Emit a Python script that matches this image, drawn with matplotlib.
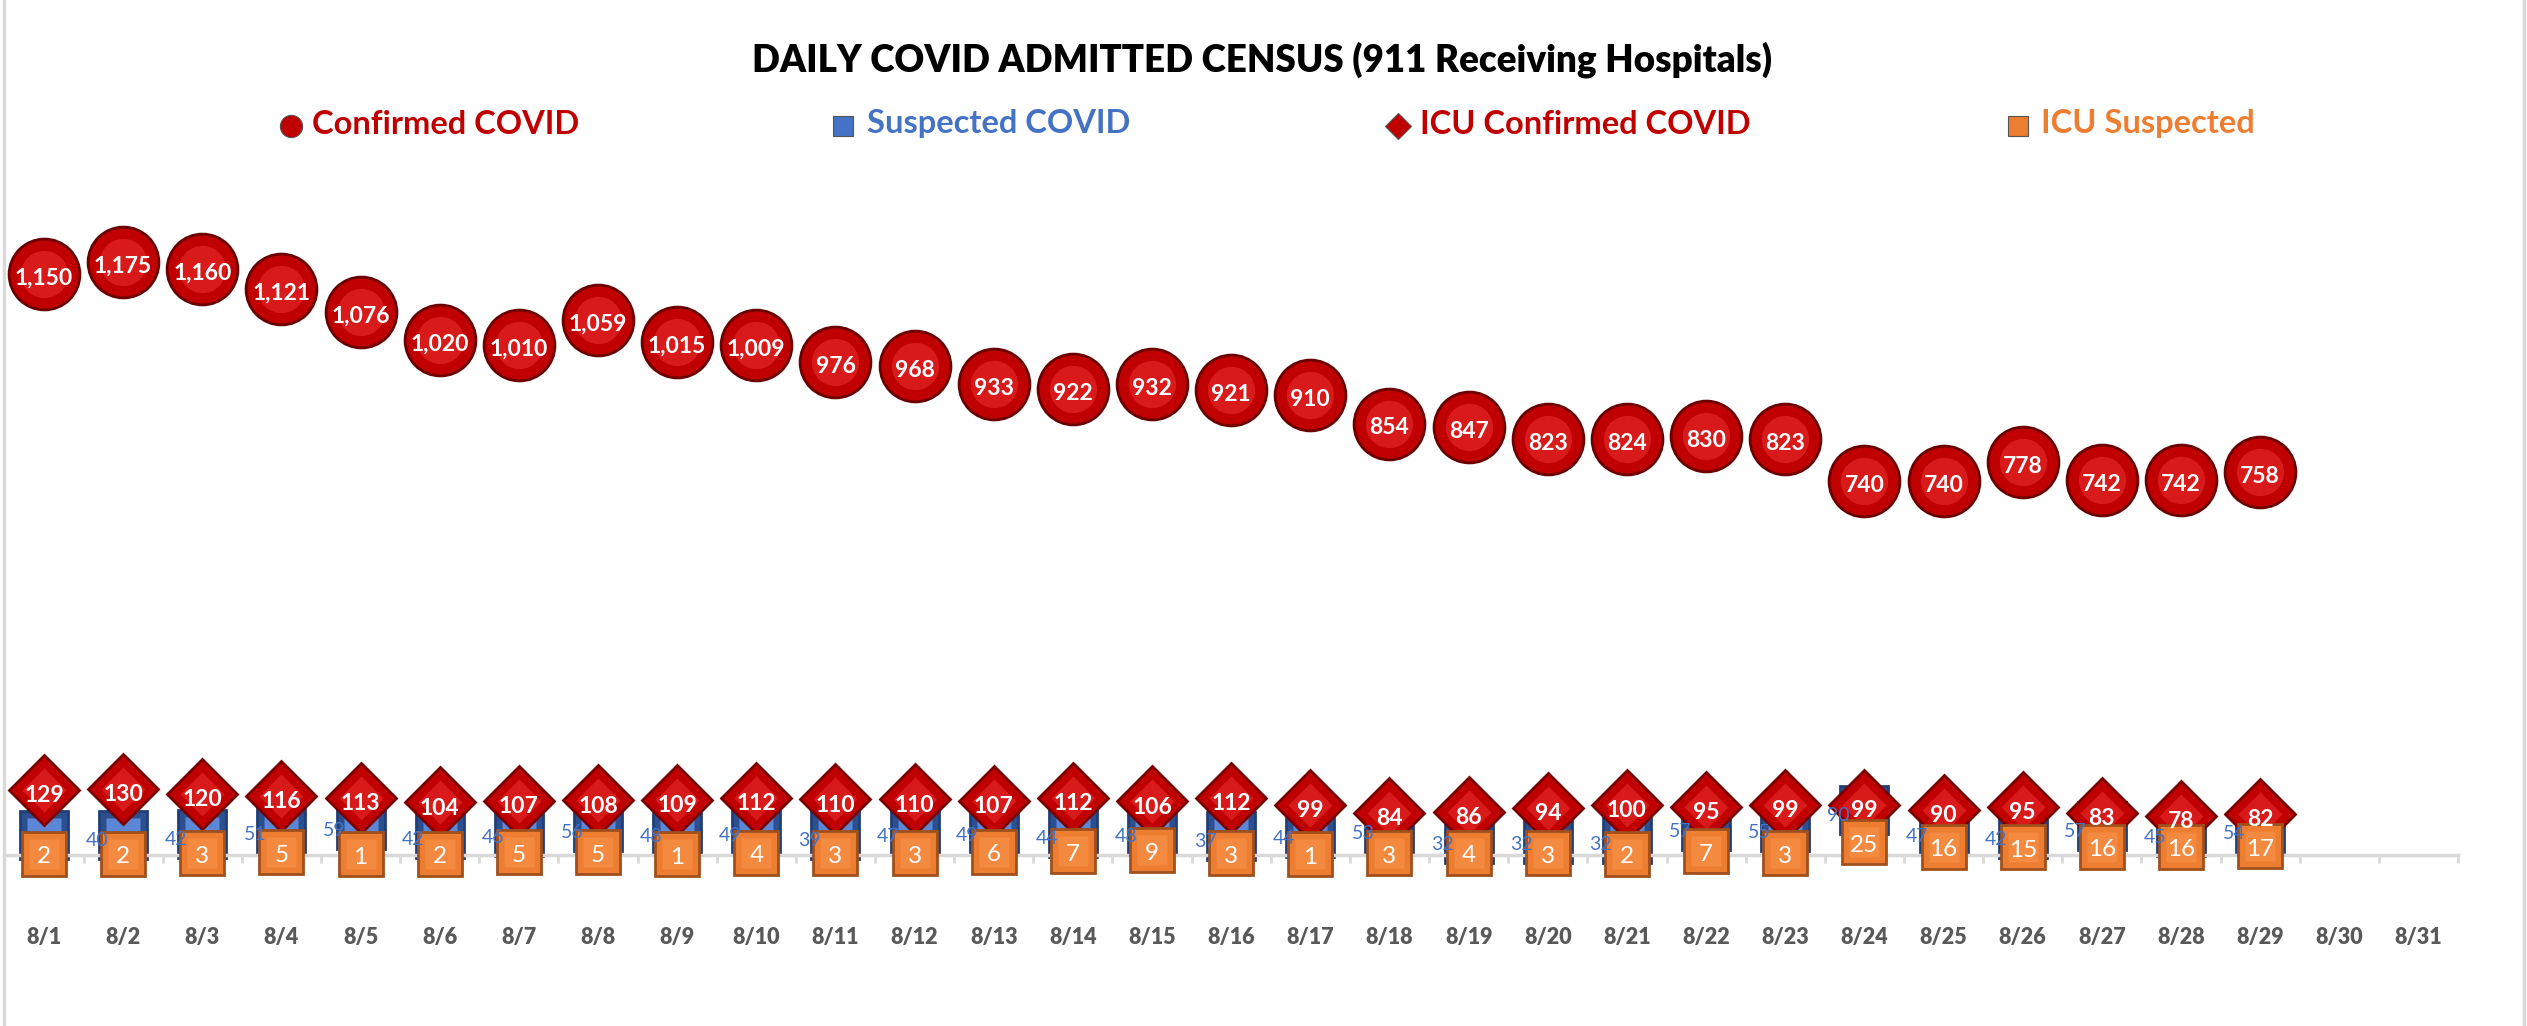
from __future__ import annotations

import matplotlib

matplotlib.use("Agg")
import matplotlib.pyplot as plt
from matplotlib.lines import Line2D

days = [f"8/{d}" for d in range(1, 32)]

confirmed = [1150, 1175, 1160, 1121, 1076, 1020, 1010, 1059, 1015, 1009, 976, 968,
             933, 922, 932, 921, 910, 854, 847, 823, 824, 830, 823, 740, 740, 778,
             742, 742, 758]
suspected = [40, 40, 42, 51, 59, 42, 46, 56, 48, 49, 39, 47, 49, 44, 48, 37, 44,
             53, 32, 32, 32, 57, 55, 90, 47, 42, 57, 45, 54]
icu_confirmed = [129, 130, 120, 116, 113, 104, 107, 108, 109, 112, 110, 110, 107,
                 112, 106, 112, 99, 84, 86, 94, 100, 95, 99, 99, 90, 95, 83, 78, 82]
icu_suspected = [2, 2, 3, 5, 1, 2, 5, 5, 1, 4, 3, 3, 6, 7, 9, 3, 1, 3, 4, 3, 2, 7,
                 3, 25, 16, 15, 16, 16, 17]

RED = "#C00000"
BLUE = "#4472C4"
ORANGE = "#ED7D31"
GRAY = "#595959"
FONT = ["Lato", "DejaVu Sans"]

W, H = 2527, 1026


def fx(px):
    return px / W


def fy(py):
    return 1 - py / H


def main() -> None:
    plt.rcParams["font.family"] = FONT
    fig = plt.figure(figsize=(W / 100, H / 100), dpi=100)

    # plot area: y=0 at 855px from top, 0.505 px per unit
    y_max = 1350
    bottom = fy(855)
    height = y_max * 0.505 / H
    ax = fig.add_axes([fx(4.4), bottom, fx(2453.6), height])
    ax.set_xlim(-0.5, len(days) - 0.5)
    ax.set_ylim(0, y_max)

    x_conf = range(len(confirmed))

    # suspected (blue squares) drawn first
    ax.plot(x_conf, suspected, ls="none", marker="s", ms=35, mfc="#2B4F8F",
            mec="#1F3F78", mew=2, zorder=2, clip_on=False)
    ax.plot(x_conf, suspected, ls="none", marker="s", ms=24, mfc="#5B87D6",
            mec="none", zorder=2.1, clip_on=False)
    ax.plot(x_conf, confirmed, ls="none", marker="o", ms=51, mfc=RED,
            mec="#6B0000", mew=2, zorder=3, clip_on=False)
    ax.plot(x_conf, confirmed, ls="none", marker="o", ms=34, mfc="#D81A1A",
            mec="none", zorder=3.1, clip_on=False)
    ax.plot(x_conf, icu_confirmed, ls="none", marker="D", ms=36, mfc=RED,
            mec="#7A0000", mew=2, zorder=4, clip_on=False)
    ax.plot(x_conf, icu_confirmed, ls="none", marker="D", ms=22, mfc="#D81A1A",
            mec="none", zorder=4.1, clip_on=False)
    ax.plot(x_conf, icu_suspected, ls="none", marker="s", ms=31, mfc=ORANGE,
            mec="#A0501C", mew=2, zorder=5, clip_on=False)
    ax.plot(x_conf, icu_suspected, ls="none", marker="s", ms=21, mfc="#F48A40",
            mec="none", zorder=5.1, clip_on=False)

    for i, v in enumerate(confirmed):
        ax.annotate(f"{v:,}", (i, v), xytext=(0, -3), textcoords="offset points",
                    ha="center", va="center", color="white", fontsize=16.5,
                    fontweight="bold", zorder=6)
    for i, v in enumerate(icu_confirmed):
        ax.annotate(str(v), (i, v), xytext=(0, -4), textcoords="offset points",
                    ha="center", va="center", color="white", fontsize=16.5,
                    fontweight="bold", zorder=6)
    for i, v in enumerate(icu_suspected):
        ax.annotate(str(v), (i, v), xytext=(0, -2), textcoords="offset points",
                    ha="center", va="center", color="white", fontsize=17.5,
                    zorder=6)
    for i, v in enumerate(suspected):
        if i == 0:
            continue  # hidden behind the left edge in the source chart
        ax.annotate(str(v), (i - 1, v), xytext=(30, -4), textcoords="offset points",
                    ha="left", va="center", color=BLUE, fontsize=14, zorder=7)

    # category axis
    for side in ["left", "right", "top"]:
        ax.spines[side].set_visible(False)
    ax.spines["bottom"].set_color("#D9D9D9")
    ax.spines["bottom"].set_linewidth(2.5)
    ax.set_yticks([])
    ax.set_xticks([i - 0.5 for i in range(len(days) + 1)], minor=False)
    ax.set_xticklabels([])
    ax.tick_params(axis="x", which="major", length=6, width=2, color="#D9D9D9",
                   direction="out")
    ax.set_xticks(range(len(days)), minor=True)
    ax.set_xticklabels(days, minor=True, fontsize=15.5, fontweight="heavy", color=GRAY)
    ax.tick_params(axis="x", which="minor", length=0, pad=52)
    ax.patch.set_visible(False)

    # chart border
    for x in (4, 2524):
        fig.add_artist(Line2D([fx(x), fx(x)], [0, 1], transform=fig.transFigure,
                              color="#D9D9D9", lw=2.5))

    fig.text(fx(1262), fy(60), "DAILY COVID ADMITTED CENSUS (911 Receiving Hospitals)",
             ha="center", va="center", fontsize=26.5, fontweight="heavy", color="black")

    legend_items = [
        (291, 312, "o", 16, RED, RED, "Confirmed COVID"),
        (843, 867, "s", 15, BLUE, BLUE, "Suspected COVID"),
        (1398, 1420, "D", 13, RED, RED, "ICU Confirmed COVID"),
        (2018, 2041, "s", 15, ORANGE, ORANGE, "ICU Suspected"),
    ]
    for mx, tx, marker, ms, mcolor, tcolor, label in legend_items:
        fig.add_artist(Line2D([fx(mx)], [fy(126)], transform=fig.transFigure,
                              marker=marker, ms=ms, mfc=mcolor, mec="#555555",
                              mew=0.8, ls="none"))
        fig.text(fx(tx), fy(124), label, ha="left", va="center", fontsize=23.5,
                 fontweight="bold", color=tcolor)

    fig.savefig("out.png", dpi=100)
    plt.close(fig)


if __name__ == "__main__":
    main()
